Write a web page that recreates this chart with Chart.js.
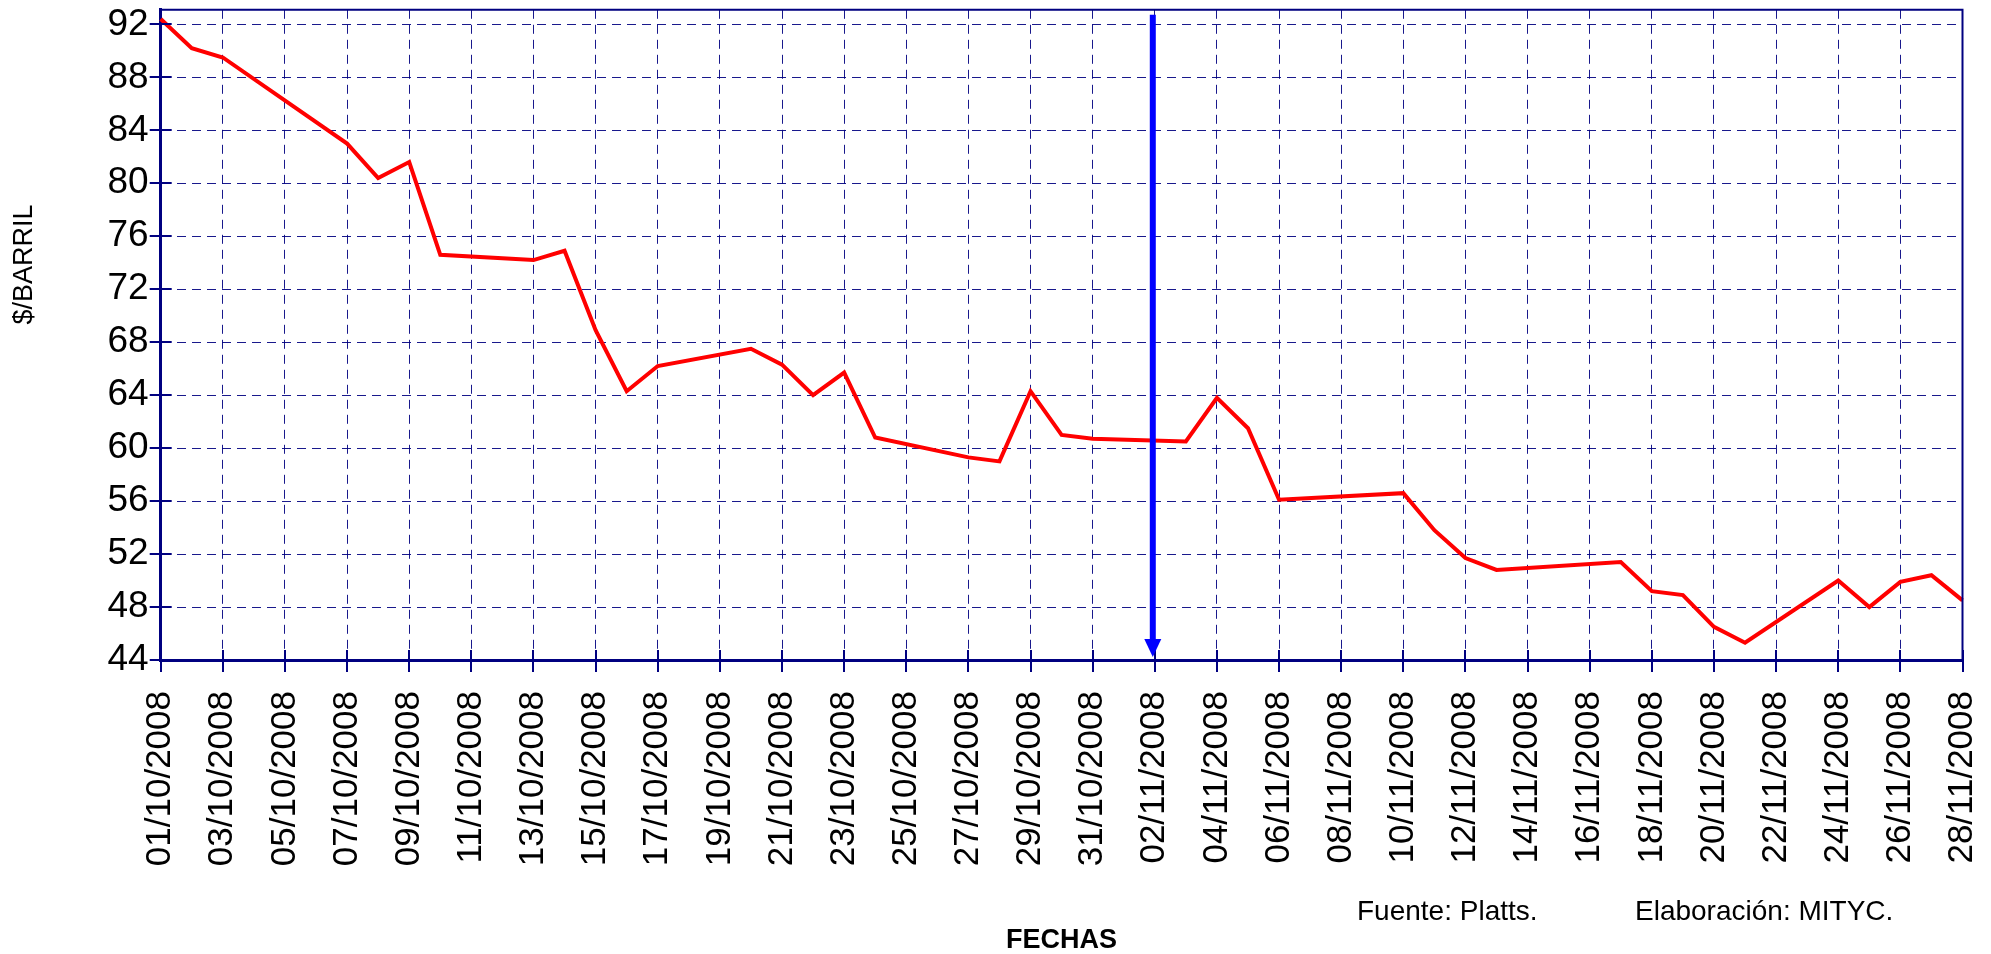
<!DOCTYPE html>
<html>
<head>
<meta charset="utf-8">
<script src="https://cdn.jsdelivr.net/npm/chart.js@4.4.1/dist/chart.umd.min.js"></script>
<style>
html,body{margin:0;padding:0;background:#fff;}
canvas{display:block;}
</style>
</head>
<body>
<canvas id="c" width="1991" height="954"></canvas>
<script>
// ---- Data ----
const dayLabels = [
  '01/10/2008','02/10/2008','03/10/2008','04/10/2008','05/10/2008','06/10/2008','07/10/2008','08/10/2008','09/10/2008','10/10/2008',
  '11/10/2008','12/10/2008','13/10/2008','14/10/2008','15/10/2008','16/10/2008','17/10/2008','18/10/2008','19/10/2008','20/10/2008',
  '21/10/2008','22/10/2008','23/10/2008','24/10/2008','25/10/2008','26/10/2008','27/10/2008','28/10/2008','29/10/2008','30/10/2008',
  '31/10/2008','01/11/2008','02/11/2008','03/11/2008','04/11/2008','05/11/2008','06/11/2008','07/11/2008','08/11/2008','09/11/2008',
  '10/11/2008','11/11/2008','12/11/2008','13/11/2008','14/11/2008','15/11/2008','16/11/2008','17/11/2008','18/11/2008','19/11/2008',
  '20/11/2008','21/11/2008','22/11/2008','23/11/2008','24/11/2008','25/11/2008','26/11/2008','27/11/2008','28/11/2008'
];

const priceDates = [
  '01/10/2008','02/10/2008','03/10/2008','07/10/2008','08/10/2008','09/10/2008','10/10/2008',
  '13/10/2008','14/10/2008','15/10/2008','16/10/2008','17/10/2008',
  '20/10/2008','21/10/2008','22/10/2008','23/10/2008','24/10/2008',
  '27/10/2008','28/10/2008','29/10/2008','30/10/2008','31/10/2008',
  '03/11/2008','04/11/2008','05/11/2008','06/11/2008',
  '10/11/2008','11/11/2008','12/11/2008','13/11/2008',
  '17/11/2008','18/11/2008','19/11/2008','20/11/2008','21/11/2008',
  '24/11/2008','25/11/2008','26/11/2008','27/11/2008','28/11/2008'
];

const prices = [
  92.4, 90.2, 89.5, 83.0, 80.4, 81.6, 74.6,
  74.2, 74.9, 68.9, 64.3, 66.2,
  67.5, 66.3, 64.0, 65.7, 60.8,
  59.3, 59.0, 64.3, 61.0, 60.7,
  60.5, 63.8, 61.5, 56.1,
  56.6, 53.8, 51.7, 50.8,
  51.4, 49.2, 48.9, 46.5, 45.3,
  50.0, 48.0, 49.9, 50.4, 48.5
];

const yMin = 44;
const yMax = 93.1;
const yStep = 4;
const markerDate = '02/11/2008';
const yAxisTitle = '$/BARRIL';
const xAxisTitle = 'FECHAS';
const sourceNote = 'Fuente: Platts.';
const authorNote = 'Elaboración: MITYC.';

// ---- Styles ----
const NAVY = '#000080';
const GRID = 'rgba(0,0,128,0.9)';
const FONT = "'Liberation Sans', Arial, Helvetica, sans-serif";
Chart.defaults.font.family = FONT;
Chart.defaults.color = '#000';

const decor = {
  id: 'decor',
  afterDatasetsDraw(chart) {
    const {ctx, chartArea: a, scales: {x, y}} = chart;
    ctx.save();
    // top and right frame
    ctx.strokeStyle = NAVY;
    ctx.lineWidth = 2;
    ctx.beginPath();
    ctx.moveTo(a.left, a.top);
    ctx.lineTo(a.right, a.top);
    ctx.lineTo(a.right, a.bottom);
    ctx.stroke();
    // crossing tick marks
    ctx.lineWidth = 2;
    y.ticks.forEach((t, i) => {
      const py = Math.round(y.getPixelForTick(i));
      ctx.beginPath();
      ctx.moveTo(a.left - 11, py);
      ctx.lineTo(a.left + 11, py);
      ctx.stroke();
    });
    x.ticks.forEach((t, i) => {
      const px = Math.round(x.getPixelForTick(i));
      ctx.beginPath();
      ctx.moveTo(px, a.bottom - 10);
      ctx.lineTo(px, a.bottom + 12);
      ctx.stroke();
    });
    // blue arrow marker
    const ax = x.getPixelForValue(dayLabels.indexOf(markerDate)) - 2;
    ctx.strokeStyle = '#0000FF';
    ctx.fillStyle = '#0000FF';
    ctx.lineWidth = 6;
    ctx.beginPath();
    ctx.moveTo(ax, a.top + 5);
    ctx.lineTo(ax, a.bottom - 18);
    ctx.stroke();
    ctx.beginPath();
    ctx.moveTo(ax - 8.5, a.bottom - 21);
    ctx.lineTo(ax + 8.5, a.bottom - 21);
    ctx.lineTo(ax, a.bottom - 3);
    ctx.closePath();
    ctx.fill();
    ctx.restore();
  },
  afterDraw(chart) {
    const {ctx} = chart;
    ctx.save();
    ctx.fillStyle = '#000';
    // y axis title
    ctx.font = '27px ' + FONT;
    ctx.textAlign = 'center';
    ctx.textBaseline = 'middle';
    ctx.translate(24.5, 264.5);
    ctx.rotate(-Math.PI / 2);
    ctx.fillText(yAxisTitle, 0, 0);
    ctx.restore();
    ctx.save();
    ctx.fillStyle = '#000';
    ctx.font = '28px ' + FONT;
    ctx.textAlign = 'left';
    ctx.textBaseline = 'alphabetic';
    ctx.fillText(sourceNote, 1357, 920);
    ctx.fillText(authorNote, 1635, 920);
    ctx.restore();
  }
};

new Chart(document.getElementById('c'), {
  type: 'line',
  data: {
    labels: dayLabels,
    datasets: [{
      data: priceDates.map((d, i) => ({x: d, y: prices[i]})),
      borderColor: '#FF0000',
      borderWidth: 4,
      pointRadius: 0,
      tension: 0,
      fill: false
    }]
  },
  options: {
    responsive: false,
    animation: false,
    events: [],
    layout: {padding: {left: 0, right: 28.5, top: 9.8, bottom: 0}},
    plugins: {legend: {display: false}, tooltip: {enabled: false}},
    scales: {
      x: {
        type: 'category',
        offset: false,
        afterBuildTicks(scale) {
          scale.ticks = scale.ticks.filter(t => t.value % 2 === 0);
        },
        afterFit(scale) {
          scale.height = 294;
          scale.paddingLeft = 0;
          scale.paddingRight = 0;
        },
        ticks: {
          autoSkip: false,
          minRotation: 90,
          maxRotation: 90,
          padding: 19,
          color: '#000',
          font: {size: 35}
        },
        grid: {
          color: GRID,
          lineWidth: 1,
          tickLength: 12,
          tickColor: 'transparent'
        },
        border: {color: NAVY, width: 3, dash: [9, 6]},
        title: {
          display: true,
          text: xAxisTitle,
          color: '#000',
          font: {size: 27, weight: 'bold', lineHeight: 1},
          padding: 0
        }
      },
      y: {
        type: 'linear',
        min: yMin,
        max: yMax,
        bounds: 'data',
        afterFit(scale) {
          scale.width = 160.7;
          scale.paddingTop = 0;
          scale.paddingBottom = 0;
        },
        ticks: {
          stepSize: yStep,
          includeBounds: false,
          padding: 1,
          color: '#000',
          font: {size: 37}
        },
        grid: {
          color: GRID,
          lineWidth: 1,
          tickLength: 11,
          tickColor: 'transparent'
        },
        border: {color: NAVY, width: 3, dash: [9, 6]}
      }
    }
  },
  plugins: [decor]
});
</script>
</body>
</html>
